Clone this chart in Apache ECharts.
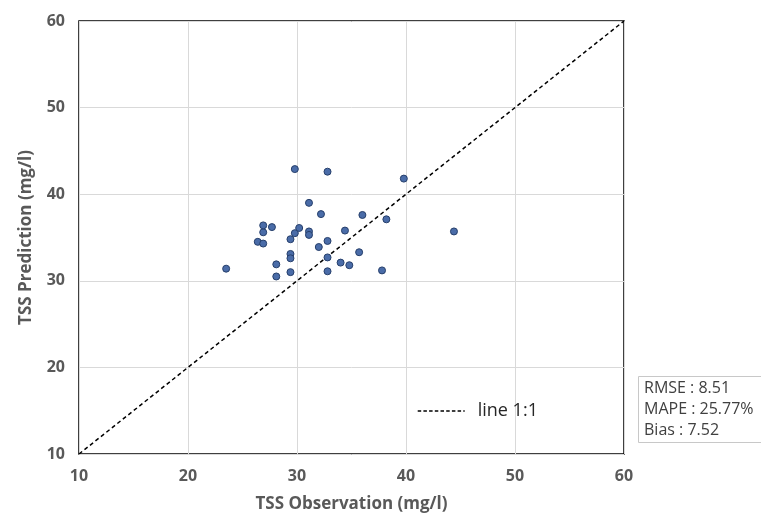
<!DOCTYPE html>
<html><head><meta charset="utf-8">
<script src="https://cdn.jsdelivr.net/npm/echarts@6/dist/echarts.min.js"></script>
<style>html,body{margin:0;padding:0;background:#fff}#c{width:761px;height:528px}</style>
</head><body><div id="c"></div>
<script>
const observation = [23.5,26.4,26.9,26.9,26.9,27.7,28.1,28.1,29.4,29.4,29.4,29.4,29.8,29.8,30.2,31.1,31.1,31.1,32.0,32.2,32.8,32.8,32.8,32.8,34.0,34.4,34.8,35.7,36.0,37.8,38.2,39.8,44.4];
const prediction  = [31.4,34.5,34.3,35.6,36.4,36.2,31.9,30.5,34.8,33.1,32.6,31.0,35.5,42.9,36.1,39.0,35.7,35.3,33.9,37.7,42.6,34.6,32.7,31.1,32.1,35.8,31.8,33.3,37.6,31.2,37.1,41.8,35.7];
const lineX = [10, 60];
const lineY = [10, 60];
const stats = ['RMSE : 8.51', 'MAPE : 25.77%', 'Bias : 7.52'];
const xTitle = 'TSS Observation (mg/l)';
const yTitle = 'TSS Prediction (mg/l)';

const chart = echarts.init(document.getElementById('c'), null, {renderer:'canvas'});
const font = '"Open Sans", "Liberation Sans", sans-serif';
chart.setOption({
  animation:false,
  backgroundColor:'#fff',
  textStyle:{fontFamily:font},
  grid:{left:79,right:137,top:21,bottom:74,show:true,borderColor:'#000',borderWidth:1.5,backgroundColor:'transparent'},
  xAxis:{type:'value',min:10,max:60,interval:10,
    name:xTitle,nameLocation:'middle',nameGap:42,
    nameTextStyle:{color:'#595959',fontSize:17,fontWeight:'bold',fontFamily:font},
    axisLine:{show:false},axisTick:{show:false},
    axisLabel:{color:'#595959',fontSize:16,fontWeight:'bold',margin:14,fontFamily:font},
    splitLine:{show:true,lineStyle:{color:'#d9d9d9',width:1}}},
  yAxis:{type:'value',min:10,max:60,interval:10,
    name:yTitle,nameLocation:'middle',nameGap:44,
    nameTextStyle:{color:'#595959',fontSize:17,fontWeight:'bold',fontFamily:font},
    axisLine:{show:false},axisTick:{show:false},
    axisLabel:{color:'#595959',fontSize:16,fontWeight:'bold',margin:14,fontFamily:font},
    splitLine:{show:true,lineStyle:{color:'#d9d9d9',width:1}}},
  legend:{show:true,left:412,top:397,data:['line 1:1'],
    itemWidth:47,itemHeight:16,itemGap:10,
    itemStyle:{color:'rgba(0,0,0,0)',borderWidth:0,opacity:0},
    lineStyle:{color:'#000',width:1.4,type:[3.5,2.2]},
    textStyle:{color:'#262626',fontSize:18,fontFamily:font,padding:[0,0,0,8]}},
  title:{text:stats.join('\n'),left:638,top:376,
    textStyle:{color:'#404040',fontSize:16,fontWeight:'normal',lineHeight:21,fontFamily:font},
    borderColor:'#c8c8c8',borderWidth:1,padding:[2,10,2,6],backgroundColor:'#fff'},
  series:[
    {name:'line 1:1',type:'line',data:lineX.map((v,i)=>[v,lineY[i]]),symbol:'none',
      lineStyle:{color:'#000',width:1.5,type:[4,3]},itemStyle:{color:'#000'},z:3},
    {name:'points',type:'scatter',data:observation.map((v,i)=>[v,prediction[i]]),symbolSize:7,
      itemStyle:{color:'#4a6ca8',borderColor:'#263f6b',borderWidth:1,opacity:1},z:4}
  ]
});
</script></body></html>
